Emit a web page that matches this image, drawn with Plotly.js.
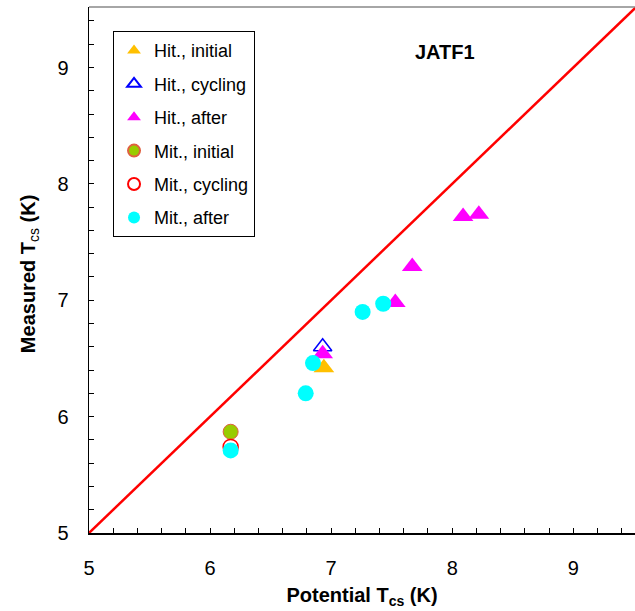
<!DOCTYPE html>
<html><head><meta charset="utf-8">
<script src="https://cdn.plot.ly/plotly-3.0.1.min.js"></script>
<style>html,body{margin:0;padding:0;background:#fff}</style>
</head><body><div id="chart" style="width:635px;height:611px"></div>
<script>
// Reference line y = x
const refX = [5, 9.52];
const refY = [5, 9.52];
// Series
const hitInitialX = [6.94];
const hitInitialY = [6.42];
const hitCyclingX = [6.93];
const hitCyclingY = [6.60];
const hitAfterX = [6.93, 7.53, 7.67, 8.09, 8.22];
const hitAfterY = [6.54, 6.98, 7.29, 7.72, 7.74];
const mitInitialX = [6.17];
const mitInitialY = [5.87];
const mitCyclingX = [6.17];
const mitCyclingY = [5.74];
const mitAfterX = [6.17, 6.79, 6.85, 7.26, 7.43];
const mitAfterY = [5.71, 6.20, 6.46, 6.90, 6.97];
const tickVals = [5, 6, 7, 8, 9];
const tickText = ['5', '6', '7', '8', '9'];

const FONT = 'Liberation Sans, Arial, sans-serif';

const traces = [
  {x: refX, y: refY, mode: 'lines', line: {color: '#FF0000', width: 2.5}, showlegend: false, hoverinfo: 'skip'},
  {x: hitInitialX, y: hitInitialY, mode: 'markers', name: 'Hit., initial', legendgroup: 'a',
   marker: {symbol: 'triangle-up', size: 18, color: '#FFC000'}},
  {x: hitCyclingX, y: hitCyclingY, mode: 'markers', name: 'Hit., cycling', legendgroup: 'b',
   marker: {symbol: 'triangle-up-open', size: 16, color: '#0000FF', line: {width: 1.5, color: '#0000FF'}}},
  {x: hitAfterX, y: hitAfterY, mode: 'markers', name: 'Hit., after', legendgroup: 'c',
   marker: {symbol: 'triangle-up', size: 18, color: '#FF00FF'}},
  {x: mitInitialX, y: mitInitialY, mode: 'markers', name: 'Mit., initial', legendgroup: 'd',
   marker: {symbol: 'circle', size: 15, color: '#99CC00', line: {width: 1, color: '#E06040'}}},
  {x: mitCyclingX, y: mitCyclingY, mode: 'markers', name: 'Mit., cycling', legendgroup: 'e',
   marker: {symbol: 'circle-open', size: 15, color: '#FF0000', line: {width: 1.5, color: '#FF0000'}}},
  {x: mitAfterX, y: mitAfterY, mode: 'markers', name: 'Mit., after', legendgroup: 'f',
   marker: {symbol: 'circle', size: 16, color: '#00FFFF'}}
];

const axisCommon = {
  showgrid: false, zeroline: false, showline: true, linecolor: '#000', linewidth: 1.5,
  ticks: 'inside', ticklen: 5, tickwidth: 1, tickcolor: '#000',
  tickvals: tickVals, ticktext: tickText,
  minor: {dtick: 0.2, ticks: 'inside', ticklen: 5, tickwidth: 1, tickcolor: '#000'},
  tickfont: {family: FONT, size: 20, color: '#000'},
  automargin: false
};

const layout = {
  width: 635, height: 611,
  margin: {l: 89, r: 0, t: 7, b: 78},
  paper_bgcolor: '#fff', plot_bgcolor: '#fff',
  font: {family: FONT, color: '#000'},
  xaxis: Object.assign({}, axisCommon, {
    range: [5, 9.51], ticklabelstandoff: 16,
    title: {text: '<b>Potential T<sub>cs</sub> (K)</b>', font: {family: FONT, size: 20, color: '#000'}, standoff: 10}
  }),
  yaxis: Object.assign({}, axisCommon, {
    range: [5, 9.52], ticklabelstandoff: 15
  }),
  legend: {
    x: 0.044, y: 0.954, xanchor: 'left', yanchor: 'top',
    bgcolor: '#fff', bordercolor: '#000', borderwidth: 1,
    font: {family: FONT, size: 18, color: '#000'},
    traceorder: 'grouped', tracegroupgap: 7, itemsizing: 'constant'
  },
  shapes: [
    {type: 'line', xref: 'paper', yref: 'paper', x0: 0, x1: 1, y0: 1, y1: 1, line: {color: '#888', width: 1.5}}
  ],
  annotations: [
    {text: '<b>JATF1</b>', xref: 'paper', yref: 'paper', x: 0.652, y: 0.914, xanchor: 'center', yanchor: 'middle',
     showarrow: false, font: {family: FONT, size: 20, color: '#000'}},
    {text: '<b>Measured T</b><sub>cs</sub><b> (K)</b>', xref: 'paper', yref: 'paper', x: -0.110, y: 0.492,
     xanchor: 'center', yanchor: 'middle', textangle: -90, showarrow: false,
     font: {family: FONT, size: 20, color: '#000'}}
  ]
};

Plotly.newPlot('chart', traces, layout, {displayModeBar: false, staticPlot: true});
</script>
</body></html>
